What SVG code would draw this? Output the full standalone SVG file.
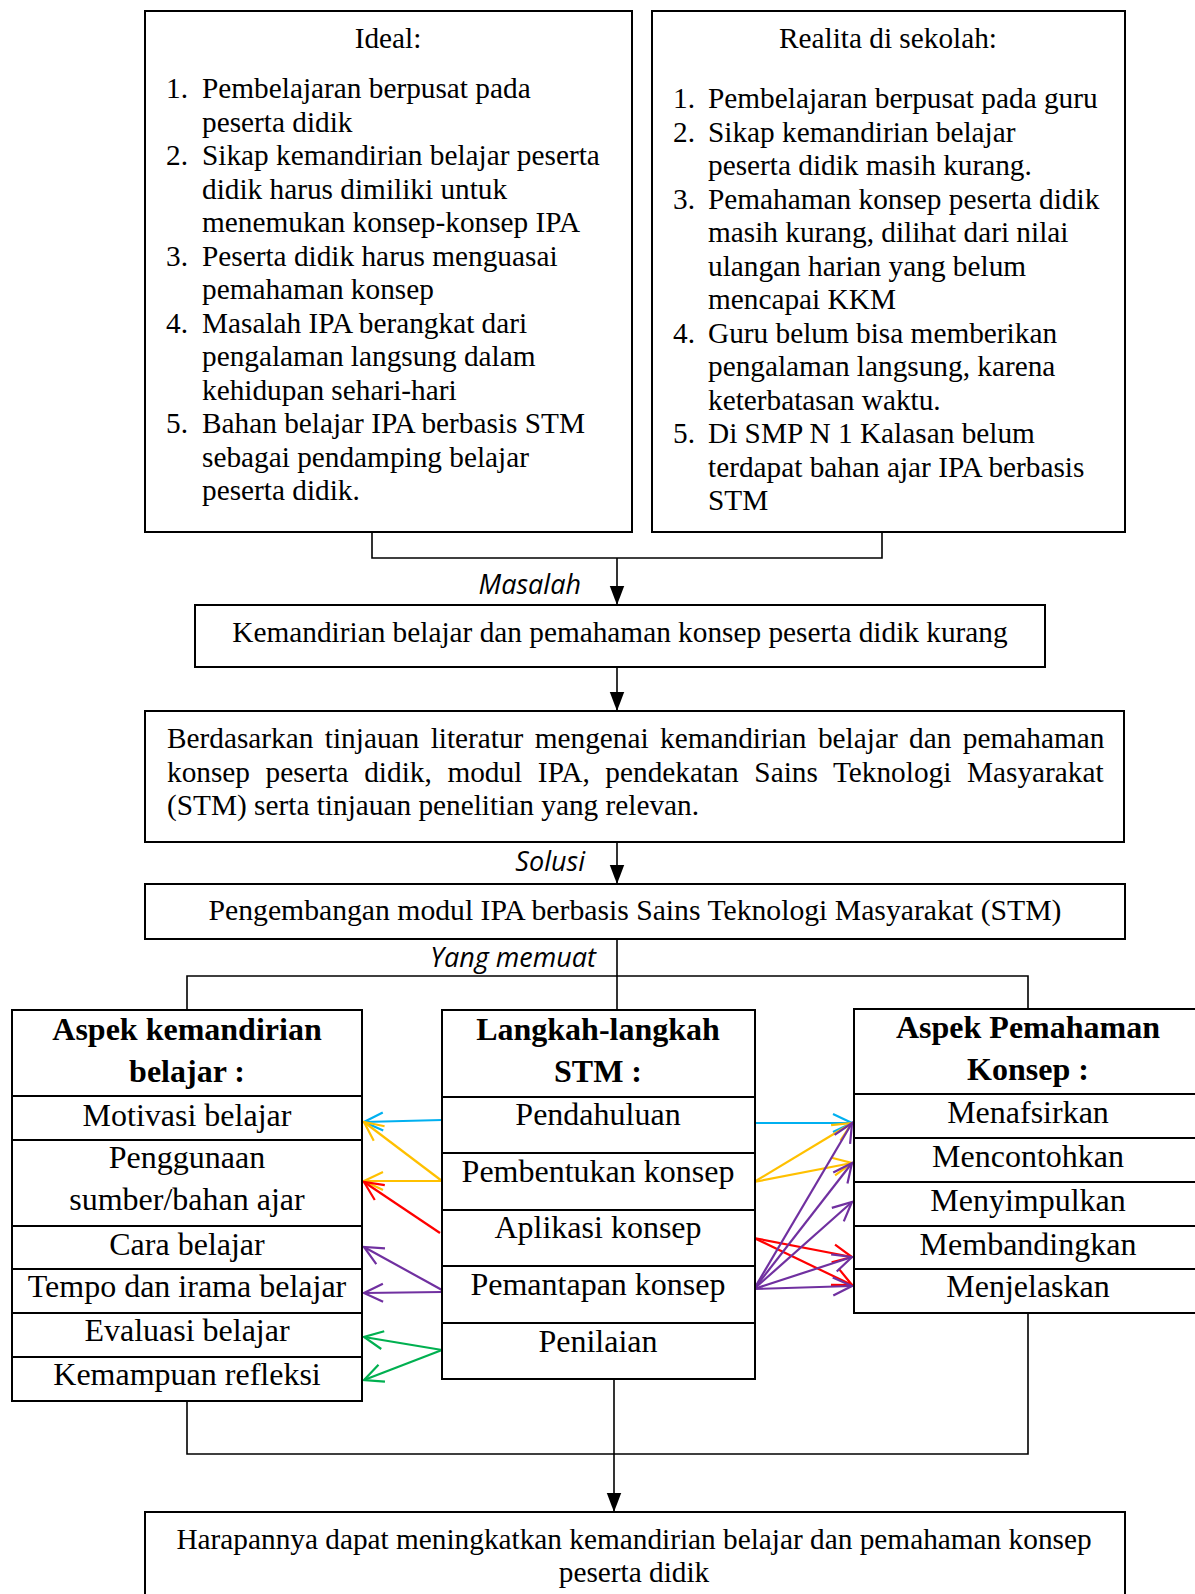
<svg xmlns="http://www.w3.org/2000/svg" width="1195" height="1594" viewBox="0 0 1195 1594">
<style>
.box{fill:#fff;stroke:#000;stroke-width:2}
.t{font-family:"Liberation Serif","Times New Roman",serif;font-size:29.3px;fill:#000}
.m{font-family:"Liberation Serif","Times New Roman",serif;font-size:32px;fill:#000;text-anchor:middle}
.b{font-weight:bold}
.c{text-anchor:middle}
.lab{font-family:"Open Sans","Liberation Sans",sans-serif;font-style:italic;font-size:27px;fill:#000;text-anchor:end}
.ln{fill:none;stroke:#000;stroke-width:1.6}
.ca{fill:none;stroke-width:2.2}
</style>
<defs>
<marker id="ah" markerUnits="userSpaceOnUse" markerWidth="20" markerHeight="20" viewBox="-17 -7 18 14" refX="0" refY="0" orient="auto"><path d="M-17,-6.5 L0,0 L-17,6.5 Z" fill="#000"/></marker>
<marker id="mc" markerUnits="userSpaceOnUse" markerWidth="24" markerHeight="24" viewBox="-21 -12 24 24" refX="0" refY="0" orient="auto"><path d="M-19,-9 L0,0 L-19,9" fill="none" stroke="#00B0F0" stroke-width="2.2"/></marker>
<marker id="my" markerUnits="userSpaceOnUse" markerWidth="24" markerHeight="24" viewBox="-21 -12 24 24" refX="0" refY="0" orient="auto"><path d="M-19,-9 L0,0 L-19,9" fill="none" stroke="#FFC000" stroke-width="2.2"/></marker>
<marker id="mr" markerUnits="userSpaceOnUse" markerWidth="24" markerHeight="24" viewBox="-21 -12 24 24" refX="0" refY="0" orient="auto"><path d="M-19,-9 L0,0 L-19,9" fill="none" stroke="#FF0000" stroke-width="2.2"/></marker>
<marker id="mp" markerUnits="userSpaceOnUse" markerWidth="24" markerHeight="24" viewBox="-21 -12 24 24" refX="0" refY="0" orient="auto"><path d="M-19,-9 L0,0 L-19,9" fill="none" stroke="#7030A0" stroke-width="2.2"/></marker>
<marker id="mg" markerUnits="userSpaceOnUse" markerWidth="24" markerHeight="24" viewBox="-21 -12 24 24" refX="0" refY="0" orient="auto"><path d="M-19,-9 L0,0 L-19,9" fill="none" stroke="#00B050" stroke-width="2.2"/></marker>
</defs>
<rect width="1195" height="1594" fill="#fff"/>

<g id="connectors">
<path class="ln" d="M372,533 V558 H882 V533"/>
<line class="ln" x1="617" y1="558" x2="617" y2="605" marker-end="url(#ah)"/>
<line class="ln" x1="617" y1="667" x2="617" y2="711" marker-end="url(#ah)"/>
<line class="ln" x1="617" y1="842" x2="617" y2="884" marker-end="url(#ah)"/>
<line class="ln" x1="617" y1="939" x2="617" y2="1010"/>
<path class="ln" d="M187,1010 V976 H1028 V1009"/>
<path class="ln" d="M187,1401 V1454 H1028 V1313"/>
<line class="ln" x1="614" y1="1379" x2="614" y2="1512" marker-end="url(#ah)"/>
<text class="lab" x="581" y="594">Masalah</text>
<text class="lab" x="585" y="871">Solusi</text>
<text class="lab" x="596" y="967">Yang memuat</text>
<!-- left colored arrows -->
<line class="ca" stroke="#00B0F0" x1="442" y1="1120" x2="364" y2="1122" marker-end="url(#mc)"/>
<line class="ca" stroke="#FFC000" x1="442" y1="1181" x2="364" y2="1122" marker-end="url(#my)"/>
<line class="ca" stroke="#FFC000" x1="442" y1="1181" x2="364" y2="1181" marker-end="url(#my)"/>
<line class="ca" stroke="#FF0000" x1="440" y1="1233" x2="364" y2="1182" marker-end="url(#mr)"/>
<line class="ca" stroke="#7030A0" x1="442" y1="1290" x2="364" y2="1247" marker-end="url(#mp)"/>
<line class="ca" stroke="#7030A0" x1="442" y1="1292" x2="364" y2="1293" marker-end="url(#mp)"/>
<line class="ca" stroke="#00B050" x1="442" y1="1350" x2="364" y2="1337" marker-end="url(#mg)"/>
<line class="ca" stroke="#00B050" x1="442" y1="1350" x2="364" y2="1380" marker-end="url(#mg)"/>
<!-- right colored arrows -->
<line class="ca" stroke="#00B0F0" x1="755" y1="1123" x2="852" y2="1123" marker-end="url(#mc)"/>
<line class="ca" stroke="#FFC000" x1="754" y1="1182" x2="852" y2="1123" marker-end="url(#my)"/>
<line class="ca" stroke="#FFC000" x1="754" y1="1182" x2="852" y2="1163" marker-end="url(#my)"/>
<line class="ca" stroke="#FF0000" x1="754" y1="1238" x2="852" y2="1257" marker-end="url(#mr)"/>
<line class="ca" stroke="#FF0000" x1="754" y1="1238" x2="852" y2="1285" marker-end="url(#mr)"/>
<line class="ca" stroke="#7030A0" x1="754" y1="1289" x2="852" y2="1123" marker-end="url(#mp)"/>
<line class="ca" stroke="#7030A0" x1="754" y1="1289" x2="852" y2="1163" marker-end="url(#mp)"/>
<line class="ca" stroke="#7030A0" x1="754" y1="1289" x2="852" y2="1202" marker-end="url(#mp)"/>
<line class="ca" stroke="#7030A0" x1="754" y1="1289" x2="852" y2="1257" marker-end="url(#mp)"/>
<line class="ca" stroke="#7030A0" x1="754" y1="1289" x2="852" y2="1286" marker-end="url(#mp)"/>
</g>

<g id="ideal">
<rect class="box" x="145" y="11" width="487" height="521"/>
<text class="t c" x="388" y="48">Ideal:</text>
<text class="t" x="166" y="98">1.</text><text class="t" x="202" y="98">Pembelajaran berpusat pada</text>
<text class="t" x="202" y="131.5">peserta didik</text>
<text class="t" x="166" y="165">2.</text><text class="t" x="202" y="165">Sikap kemandirian belajar peserta</text>
<text class="t" x="202" y="198.5">didik harus dimiliki untuk</text>
<text class="t" x="202" y="232">menemukan konsep-konsep IPA</text>
<text class="t" x="166" y="265.5">3.</text><text class="t" x="202" y="265.5">Peserta didik harus menguasai</text>
<text class="t" x="202" y="299">pemahaman konsep</text>
<text class="t" x="166" y="332.5">4.</text><text class="t" x="202" y="332.5">Masalah IPA berangkat dari</text>
<text class="t" x="202" y="366">pengalaman langsung dalam</text>
<text class="t" x="202" y="399.5">kehidupan sehari-hari</text>
<text class="t" x="166" y="433">5.</text><text class="t" x="202" y="433">Bahan belajar IPA berbasis STM</text>
<text class="t" x="202" y="466.5">sebagai pendamping belajar</text>
<text class="t" x="202" y="500">peserta didik.</text>
</g>

<g id="realita">
<rect class="box" x="652" y="11" width="473" height="521"/>
<text class="t c" x="888" y="48">Realita di sekolah:</text>
<text class="t" x="673" y="108">1.</text><text class="t" x="708" y="108">Pembelajaran berpusat pada guru</text>
<text class="t" x="673" y="141.5">2.</text><text class="t" x="708" y="141.5">Sikap kemandirian belajar</text>
<text class="t" x="708" y="175">peserta didik masih kurang.</text>
<text class="t" x="673" y="208.5">3.</text><text class="t" x="708" y="208.5">Pemahaman konsep peserta didik</text>
<text class="t" x="708" y="242">masih kurang, dilihat dari nilai</text>
<text class="t" x="708" y="275.5">ulangan harian yang belum</text>
<text class="t" x="708" y="309">mencapai KKM</text>
<text class="t" x="673" y="342.5">4.</text><text class="t" x="708" y="342.5">Guru belum bisa memberikan</text>
<text class="t" x="708" y="376">pengalaman langsung, karena</text>
<text class="t" x="708" y="409.5">keterbatasan waktu.</text>
<text class="t" x="673" y="443">5.</text><text class="t" x="708" y="443">Di SMP N 1 Kalasan belum</text>
<text class="t" x="708" y="476.5">terdapat bahan ajar IPA berbasis</text>
<text class="t" x="708" y="510">STM</text>
</g>

<g id="masalah">
<rect class="box" x="195" y="605" width="850" height="62"/>
<text class="t c" x="620" y="642">Kemandirian belajar dan pemahaman konsep peserta didik kurang</text>
</g>

<g id="kajian">
<rect class="box" x="145" y="711" width="979" height="131"/>
<text class="t" x="167" y="748" word-spacing="4.1">Berdasarkan tinjauan literatur mengenai kemandirian belajar dan pemahaman</text>
<text class="t" x="167" y="781.5" word-spacing="8.3">konsep peserta didik, modul IPA, pendekatan Sains Teknologi Masyarakat</text>
<text class="t" x="167" y="815">(STM) serta tinjauan penelitian yang relevan.</text>
</g>

<g id="solusi">
<rect class="box" x="145" y="884" width="980" height="55"/>
<text class="t c" x="635" y="920" style="font-size:29.7px">Pengembangan modul IPA berbasis Sains Teknologi Masyarakat (STM)</text>
</g>

<g id="aspek-kemandirian">
<rect class="box" x="12" y="1010" width="350" height="391"/>
<line class="box" x1="12" y1="1096" x2="362" y2="1096"/>
<line class="box" x1="12" y1="1140" x2="362" y2="1140"/>
<line class="box" x1="12" y1="1226" x2="362" y2="1226"/>
<line class="box" x1="12" y1="1269" x2="362" y2="1269"/>
<line class="box" x1="12" y1="1313" x2="362" y2="1313"/>
<line class="box" x1="12" y1="1357" x2="362" y2="1357"/>
<text class="m b" x="187" y="1040">Aspek kemandirian</text>
<text class="m b" x="187" y="1082">belajar :</text>
<text class="m" x="187" y="1126">Motivasi belajar</text>
<text class="m" x="187" y="1168">Penggunaan</text>
<text class="m" x="187" y="1210">sumber/bahan ajar</text>
<text class="m" x="187" y="1255">Cara belajar</text>
<text class="m" x="187" y="1297">Tempo dan irama belajar</text>
<text class="m" x="187" y="1341">Evaluasi belajar</text>
<text class="m" x="187" y="1385">Kemampuan refleksi</text>
</g>

<g id="langkah-stm">
<rect class="box" x="442" y="1010" width="313" height="369"/>
<line class="box" x1="442" y1="1097" x2="755" y2="1097"/>
<line class="box" x1="442" y1="1153" x2="755" y2="1153"/>
<line class="box" x1="442" y1="1210" x2="755" y2="1210"/>
<line class="box" x1="442" y1="1266" x2="755" y2="1266"/>
<line class="box" x1="442" y1="1323" x2="755" y2="1323"/>
<text class="m b" x="598" y="1040">Langkah-langkah</text>
<text class="m b" x="598" y="1082">STM :</text>
<text class="m" x="598" y="1125">Pendahuluan</text>
<text class="m" x="598" y="1182">Pembentukan konsep</text>
<text class="m" x="598" y="1238">Aplikasi konsep</text>
<text class="m" x="598" y="1295">Pemantapan konsep</text>
<text class="m" x="598" y="1352">Penilaian</text>
</g>

<g id="aspek-pemahaman">
<rect class="box" x="854" y="1009" width="350" height="304"/>
<line class="box" x1="854" y1="1094" x2="1204" y2="1094"/>
<line class="box" x1="854" y1="1138" x2="1204" y2="1138"/>
<line class="box" x1="854" y1="1182" x2="1204" y2="1182"/>
<line class="box" x1="854" y1="1226" x2="1204" y2="1226"/>
<line class="box" x1="854" y1="1269" x2="1204" y2="1269"/>
<text class="m b" x="1028" y="1038">Aspek Pemahaman</text>
<text class="m b" x="1028" y="1080">Konsep :</text>
<text class="m" x="1028" y="1123">Menafsirkan</text>
<text class="m" x="1028" y="1167">Mencontohkan</text>
<text class="m" x="1028" y="1211">Menyimpulkan</text>
<text class="m" x="1028" y="1255">Membandingkan</text>
<text class="m" x="1028" y="1297">Menjelaskan</text>
</g>

<g id="harapan">
<rect class="box" x="145" y="1512" width="980" height="100"/>
<text class="t c" x="634" y="1549">Harapannya dapat meningkatkan kemandirian belajar dan pemahaman konsep</text>
<text class="t c" x="634" y="1582">peserta didik</text>
</g>
</svg>
